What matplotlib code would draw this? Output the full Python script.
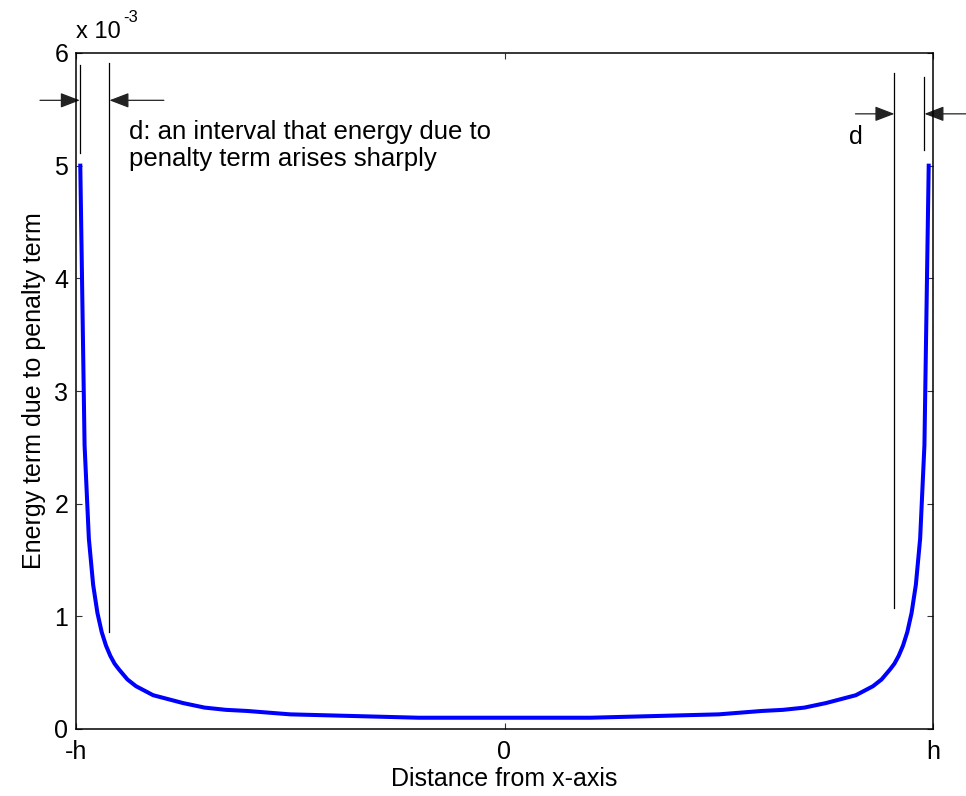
import matplotlib
matplotlib.use("Agg")
import matplotlib.pyplot as plt
from matplotlib.patches import FancyArrowPatch

plt.rcParams['font.family'] = ['Liberation Sans', 'DejaVu Sans']

# Penalty-term energy across the channel (units of 1e-3)
x_pos = [-0.99, -0.98, -0.97, -0.96, -0.95, -0.94, -0.93, -0.92, -0.91, -0.90,
         -0.88, -0.86, -0.84, -0.82, -0.80, -0.75, -0.70, -0.65, -0.60, -0.50,
         -0.40, -0.30, -0.20, -0.10, 0.00,
         0.10, 0.20, 0.30, 0.40, 0.50, 0.60, 0.65, 0.70, 0.75, 0.80,
         0.82, 0.84, 0.86, 0.88, 0.90, 0.91, 0.92, 0.93, 0.94, 0.95,
         0.96, 0.97, 0.98, 0.99]
energy = [5.00, 2.52, 1.69, 1.28, 1.03, 0.86, 0.74, 0.65, 0.58, 0.53,
          0.44, 0.38, 0.34, 0.30, 0.28, 0.23, 0.19, 0.17, 0.16, 0.13,
          0.12, 0.11, 0.10, 0.10, 0.10,
          0.10, 0.10, 0.11, 0.12, 0.13, 0.16, 0.17, 0.19, 0.23, 0.28,
          0.30, 0.34, 0.38, 0.44, 0.53, 0.58, 0.65, 0.74, 0.86, 1.03,
          1.28, 1.69, 2.52, 5.00]

x_ticks = [-1, 0, 1]
x_ticklabels = ['-h', '0', 'h']
y_ticks = [0, 1, 2, 3, 4, 5, 6]

FS = 18

W, H = 966, 796
fig = plt.figure(figsize=(W / 100, H / 100), dpi=100)
ax = fig.add_axes([76 / W, 1 - 729 / H, (933 - 76) / W, (729 - 53) / H])

ax.plot(x_pos, energy, color='#0000ff', lw=2.9, solid_joinstyle='round')

ax.set_xlim(-1, 1)
ax.set_ylim(0, 6)
ax.set_xticks(x_ticks)
ax.set_xticklabels(x_ticklabels)
ax.set_yticks(y_ticks)
ax.tick_params(direction='in', length=4.3, width=0.8, color='#333333',
               top=True, right=True, labelsize=FS)
ax.tick_params(axis='y', pad=5.5)
ax.tick_params(axis='x', pad=8)
for s in ax.spines.values():
    s.set_linewidth(1.1)
    s.set_color('black')

ax.set_xlabel('Distance from x-axis', fontsize=FS, labelpad=2)
ax.set_ylabel('Energy term due to penalty term', fontsize=FS, labelpad=6)

# exponent marker
fig.text(76 / W, 1 - 38 / H, 'x 10', fontsize=17, ha='left', va='baseline')
fig.text(123 / W, 1 - 22 / H, '-3', fontsize=12, ha='left', va='baseline')

# interval markers
def vline(x, y0, y1):
    ax.plot([x, x], [y0, y1], color='black', lw=0.9, clip_on=False)

def arrow(x0, x1, y):
    a = FancyArrowPatch((x0, y), (x1, y), arrowstyle='-|>,head_length=12,head_width=4.6',
                        mutation_scale=1, color='#222222', lw=0.9, shrinkA=0, shrinkB=0,
                        clip_on=False)
    ax.add_patch(a)

vline(-0.991, 5.11, 5.89)
vline(-0.922, 0.86, 5.91)
arrow(-1.084, -0.991, 5.58)
arrow(-0.795, -0.922, 5.58)

vline(0.910, 1.07, 5.82)
vline(0.980, 5.14, 5.79)
arrow(0.819, 0.910, 5.46)
arrow(1.10, 0.980, 5.46)

ax.text(-0.876, 5.18, 'd: an interval that energy due to\npenalty term arises sharply',
        fontsize=18.5, ha='left', va='center', linespacing=1.17)
ax.text(0.820, 5.25, 'd', fontsize=FS, ha='center', va='center')

fig.savefig('out.png', dpi=100)
